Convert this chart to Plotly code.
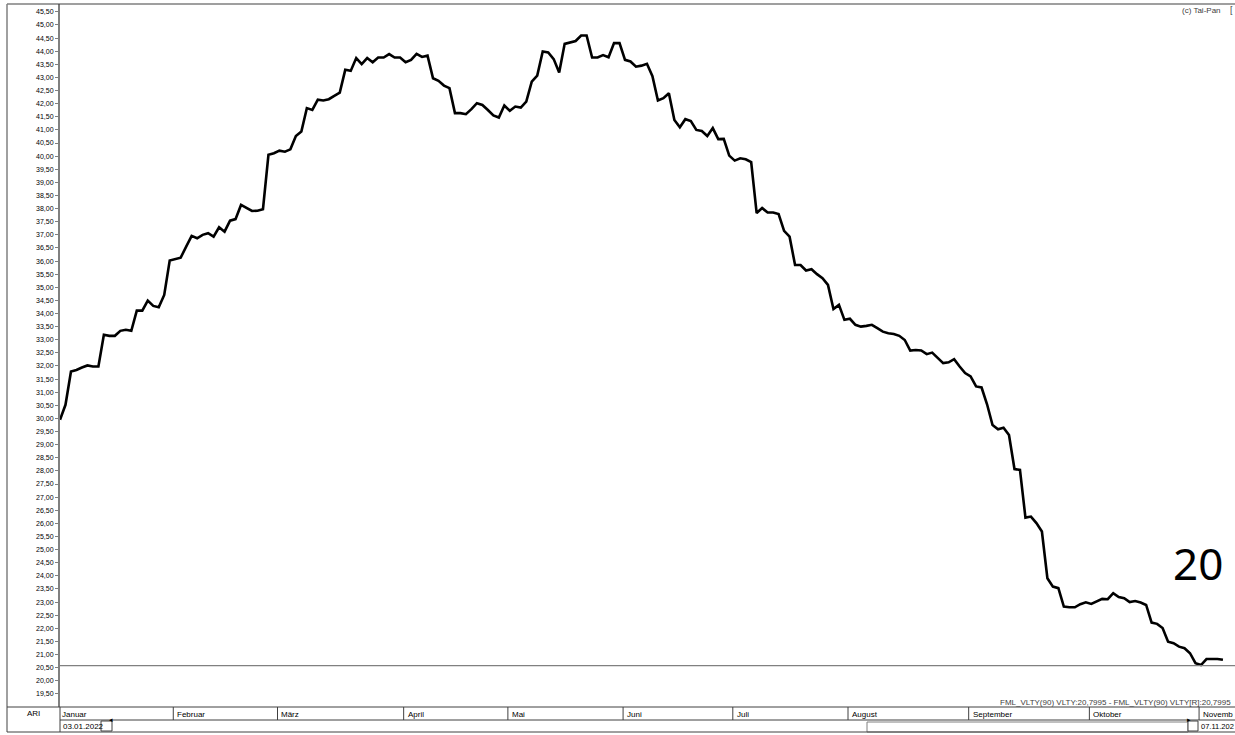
import plotly.graph_objects as go
import numpy as np

# ---- data ----
vlty = [
    29.95, 30.52, 31.79, 31.85, 31.94, 32.02, 31.98, 31.98, 33.19, 33.15,
    33.15, 33.34, 33.38, 33.34, 34.11, 34.11, 34.49, 34.29, 34.24, 34.71,
    36.02, 36.07, 36.13, 36.55, 36.96, 36.87, 37.00, 37.06, 36.93, 37.29,
    37.12, 37.54, 37.60, 38.14, 38.02, 37.91, 37.92, 37.98, 40.05, 40.11,
    40.21, 40.17, 40.26, 40.77, 40.94, 41.83, 41.76, 42.15, 42.12, 42.17,
    42.30, 42.42, 43.29, 43.25, 43.74, 43.51, 43.74, 43.58, 43.76, 43.76,
    43.89, 43.76, 43.76, 43.58, 43.67, 43.90, 43.78, 43.83, 42.97, 42.87,
    42.69, 42.59, 41.64, 41.64, 41.60, 41.79, 42.02, 41.95, 41.76, 41.55,
    41.47, 41.93, 41.73, 41.89, 41.85, 42.08, 42.84, 43.07, 43.99, 43.95,
    43.70, 43.19, 44.28, 44.34, 44.39, 44.60, 44.60, 43.76, 43.76, 43.85,
    43.77, 44.31, 44.31, 43.67, 43.61, 43.41, 43.45, 43.52, 43.05, 42.12,
    42.21, 42.40, 41.38, 41.10, 41.41, 41.34, 41.00, 40.96, 40.77, 41.07,
    40.65, 40.66, 40.02, 39.83, 39.92, 39.88, 39.77, 37.83, 38.02, 37.85,
    37.85, 37.79, 37.15, 36.93, 35.85, 35.85, 35.64, 35.69, 35.50, 35.35,
    35.09, 34.17, 34.33, 33.76, 33.80, 33.57, 33.50, 33.53, 33.57, 33.44,
    33.31, 33.25, 33.22, 33.15, 32.99, 32.59, 32.61, 32.59, 32.45, 32.51,
    32.30, 32.11, 32.14, 32.26, 31.98, 31.73, 31.60, 31.22, 31.18, 30.54,
    29.75, 29.59, 29.65, 29.37, 28.07, 28.04, 26.22, 26.26, 26.01, 25.69,
    23.91, 23.59, 23.53, 22.83, 22.80, 22.80, 22.92, 22.99, 22.93, 23.04,
    23.12, 23.11, 23.34, 23.19, 23.15, 23.00, 23.04, 22.98, 22.89, 22.22,
    22.17, 22.01, 21.49, 21.43, 21.30, 21.24, 21.05, 20.67, 20.60, 20.83,
    20.83, 20.83, 20.7995,
]
day_index = list(range(len(vlty)))

# month labels as they appear in the reference (the last one is cut off there)
month_names = ["Januar", "Februar", "März", "April", "Mai", "Juni", "Juli",
               "August", "September", "Oktober", "Novemb"]
month_start = [0, 21, 40, 63, 82, 103, 123, 144, 166, 188, 208]

first_date = "03.01.2022"
last_date = "07.11.202"
symbol = "ARI"
min_line = 20.58
big_label = "20"

y_ticks = list(np.arange(19.5, 45.51, 0.5))
y_ticktext = [f"{v:.2f}".replace(".", ",") for v in y_ticks]

# ---- layout helpers ----
W, H = 1235, 735
L, T, B = 60, 4, 28
PW, PH = W - L, H - T - B


def px(xp):
    return (xp - L) / PW


def py(yp):
    return (H - B - yp) / PH


FONT = "Liberation Sans, Arial, sans-serif"
GREY = "#808080"
DARK = "#404040"

fig = go.Figure()
fig.add_trace(go.Scatter(
    x=day_index, y=vlty, mode="lines",
    line=dict(color="black", width=2.6),
    hoverinfo="x+y", showlegend=False,
))

shapes = []
annotations = []

# horizontal min line
shapes.append(dict(type="line", xref="paper", yref="y", x0=0, x1=1,
                   y0=min_line, y1=min_line, line=dict(color=GREY, width=1.2)))
# frame lines
shapes.append(dict(type="line", xref="paper", yref="paper", x0=px(7), x1=1,
                   y0=1, y1=1, line=dict(color=DARK, width=1.2)))
shapes.append(dict(type="line", xref="paper", yref="paper", x0=px(7), x1=px(7),
                   y0=1, y1=py(732), line=dict(color=GREY, width=1.5)))
shapes.append(dict(type="line", xref="paper", yref="paper", x0=px(7), x1=1,
                   y0=0, y1=0, line=dict(color=DARK, width=1)))
shapes.append(dict(type="line", xref="paper", yref="paper", x0=0, x1=1,
                   y0=py(720), y1=py(720), line=dict(color=DARK, width=1)))
shapes.append(dict(type="line", xref="paper", yref="paper", x0=px(7), x1=1,
                   y0=py(732), y1=py(732), line=dict(color=DARK, width=1)))
shapes.append(dict(type="line", xref="paper", yref="paper", x0=0, x1=0,
                   y0=0, y1=py(732), line=dict(color=DARK, width=1)))

# month cells
for name, start in zip(month_names, month_start):
    if start > 0:
        shapes.append(dict(type="line", xref="x", yref="paper", x0=start - 0.35,
                           x1=start - 0.35, y0=0, y1=py(720),
                           line=dict(color=DARK, width=1)))
    annotations.append(dict(x=start, y=py(714), xref="x", yref="paper",
                            text=name, showarrow=False, xanchor="left",
                            yanchor="middle", xshift=0,
                            font=dict(family=FONT, size=8, color="black")))

# scroll row
shapes.append(dict(type="rect", xref="paper", yref="paper", x0=px(101), x1=px(112),
                   y0=py(721), y1=py(731), line=dict(color=DARK, width=1),
                   fillcolor="white", layer="below"))
shapes.append(dict(type="rect", xref="paper", yref="paper", x0=px(867), x1=px(1188),
                   y0=py(722), y1=py(732), line=dict(color=GREY, width=1),
                   fillcolor="white", layer="below"))
shapes.append(dict(type="rect", xref="paper", yref="paper", x0=px(1188), x1=px(1198),
                   y0=py(721), y1=py(731), line=dict(color=DARK, width=1),
                   fillcolor="white", layer="below"))
annotations.append(dict(x=px(106.5), y=py(726), xref="paper", yref="paper", text="◂",
                        showarrow=False, font=dict(family="DejaVu Sans", size=7, color="black")))
annotations.append(dict(x=px(1193), y=py(726), xref="paper", yref="paper", text="▸",
                        showarrow=False, font=dict(family="DejaVu Sans", size=7, color="black")))
annotations.append(dict(x=px(61), y=py(726), xref="paper", yref="paper", text=first_date,
                        showarrow=False, xanchor="left", yanchor="middle",
                        font=dict(family=FONT, size=8, color="black")))
annotations.append(dict(x=px(1199), y=py(726), xref="paper", yref="paper", text=last_date,
                        showarrow=False, xanchor="left", yanchor="middle",
                        font=dict(family=FONT, size=7.5, color="black")))
annotations.append(dict(x=px(33), y=py(713), xref="paper", yref="paper", text=symbol,
                        showarrow=False, xanchor="center", yanchor="middle",
                        font=dict(family=FONT, size=8, color="black")))

# legend text
last = vlty[-1]
lv = f"{last:.4f}".replace(".", ",")
legend_text = f"FML_VLTY(90) VLTY:{lv} - FML_VLTY(90) VLTY[R]:{lv}"
annotations.append(dict(x=px(1233), y=py(702), xref="paper", yref="paper",
                        text=legend_text, showarrow=False, xanchor="right",
                        yanchor="middle", font=dict(family=FONT, size=8, color=DARK)))
# copyright
annotations.append(dict(x=px(1223), y=py(10), xref="paper", yref="paper",
                        text="(c) Tai-Pan", showarrow=False, xanchor="right",
                        yanchor="middle", font=dict(family=FONT, size=8, color=DARK)))
annotations.append(dict(x=px(1228), y=py(10), xref="paper", yref="paper",
                        text="[", showarrow=False, xanchor="left",
                        yanchor="middle", font=dict(family=FONT, size=9, color=DARK)))
# big label
annotations.append(dict(x=px(1198), y=py(563), xref="paper", yref="paper",
                        text=big_label, showarrow=False, xanchor="center",
                        yanchor="middle", font=dict(family="Noto Sans, sans-serif",
                                                    size=44, color="black")))

fig.update_layout(
    width=W, height=H,
    margin=dict(l=L, r=0, t=T, b=B, pad=0),
    paper_bgcolor="white", plot_bgcolor="white",
    shapes=shapes, annotations=annotations,
    xaxis=dict(range=[0, 214.2], showgrid=False, zeroline=False,
               showticklabels=False, showline=False, ticks=""),
    yaxis=dict(range=[19.0, 45.80], tickvals=y_ticks, ticktext=y_ticktext,
               showgrid=False, zeroline=False, showline=True, linecolor=GREY,
               linewidth=2, ticks="outside", ticklen=3, tickcolor=GREY,
               tickwidth=1, tickfont=dict(family=FONT, size=7, color="black")),
    font=dict(family=FONT, color="black"),
)

fig.write_html(
    "out.html",
    config={"displayModeBar": False},
    post_script="document.body.style.margin='0';document.body.style.overflow='hidden';",
)
